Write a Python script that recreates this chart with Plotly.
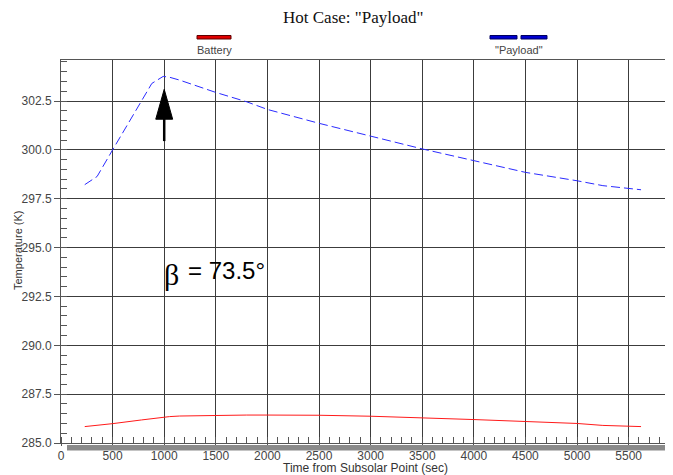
import plotly.graph_objects as go

# ---- data ----
time_s = [230, 350, 500, 780, 880, 990, 1050, 1150, 1500, 1800, 2000, 2500,
          3000, 3500, 4000, 4500, 5000, 5250, 5620]
payload_K = [298.22, 298.64, 300.0, 302.55, 303.4, 303.76, 303.72, 303.57,
             302.94, 302.46, 302.07, 301.36, 300.7, 300.05, 299.45, 298.85,
             298.42, 298.17, 297.96]
battery_K = [285.84, 285.9, 285.99, 286.18, 286.25, 286.33, 286.35, 286.38,
             286.42, 286.43, 286.43, 286.42, 286.37, 286.3, 286.2, 286.1,
             286.0, 285.9, 285.84]
series_names = ["Battery", '"Payload"']
title_text = 'Hot Case: "Payload"'
x_title = "Time from Subsolar Point (sec)"
y_title = "Temperature (K)"
beta_label = "= 73.5°"
peak_time = 1000

OFF = 8  # page body margin
W, H = 673 - OFF, 475 - OFF
# page-pixel frame of plot area: x 61..672, y 60..443
L, R, T, B = 61 - OFF, 1, 60 - OFF, 475 - 443
PW, PH = W - L - R, H - T - B

def px_x(p):  # page pixel -> paper x
    return (p - OFF - L) / PW

def px_y(p):  # page pixel -> paper y
    return (H - B - (p - OFF)) / PH

fig = go.Figure()
fig.add_trace(go.Scatter(x=time_s, y=battery_K, mode="lines", name=series_names[0],
                         line=dict(color="#ff1a1a", width=1), showlegend=False))
fig.add_trace(go.Scatter(x=time_s, y=payload_K, mode="lines", name=series_names[1],
                         line=dict(color="#2b2bff", width=1, dash="9px,4px"),
                         showlegend=False))

font_sans = "Liberation Sans, Arial, sans-serif"
axis_common = dict(showline=True, linecolor="#555555", linewidth=1, mirror=True,
                   showgrid=True, gridcolor="#3c3c3c", gridwidth=1, zeroline=False,
                   ticks="outside", tickcolor="#555555",
                   tickfont=dict(family=font_sans, size=12, color="#444444"))

fig.update_xaxes(range=[0, 5920], tick0=0, dtick=500, ticklen=2,
                 minor=dict(ticks="inside", ticklen=6, dtick=100, tickcolor="#555555",
                            showgrid=False),
                 **axis_common)
fig.update_yaxes(range=[285, 304.6], tick0=285, dtick=2.5, tickformat=".1f", ticklen=6,
                 minor=dict(ticks="inside", ticklen=6, dtick=0.5, tickcolor="#555555",
                            showgrid=False),
                 **axis_common)

shapes = []
# gray bar under x axis
shapes.append(dict(type="rect", xref="paper", yref="paper",
                   x0=px_x(67), x1=1.0, y0=px_y(445), y1=px_y(450.5),
                   fillcolor="#8a8a8a", line=dict(width=0), layer="above"))
# legend swatches
shapes.append(dict(type="rect", xref="paper", yref="paper",
                   x0=px_x(197), x1=px_x(231), y0=px_y(35.5), y1=px_y(39),
                   fillcolor="#e00000", line=dict(color="#600000", width=1)))
for a, b in [(490, 517), (521, 547)]:
    shapes.append(dict(type="rect", xref="paper", yref="paper",
                       x0=px_x(a), x1=px_x(b), y0=px_y(35.5), y1=px_y(39),
                       fillcolor="#0000d0", line=dict(color="#000060", width=1)))
# arrow at the peak
shapes.append(dict(type="line", xref="x", yref="y", x0=peak_time, x1=peak_time,
                   y0=300.45, y1=301.7, line=dict(color="black", width=2.5)))
shapes.append(dict(type="path", xref="x", yref="y",
                   path=f"M {peak_time} 303.1 L {peak_time-82} 301.57 L {peak_time+82} 301.57 Z",
                   fillcolor="black", line=dict(color="black", width=1)))

annotations = [
    dict(text=title_text, xref="paper", yref="paper", x=px_x(353), y=px_y(18),
         xanchor="center", yanchor="middle", showarrow=False,
         font=dict(family="Liberation Serif, Times New Roman, serif", size=17, color="#111111")),
    dict(text=series_names[0], xref="paper", yref="paper", x=px_x(214), y=px_y(50),
         xanchor="center", yanchor="middle", showarrow=False,
         font=dict(family=font_sans, size=11, color="#444444")),
    dict(text=series_names[1], xref="paper", yref="paper", x=px_x(519), y=px_y(50),
         xanchor="center", yanchor="middle", showarrow=False,
         font=dict(family=font_sans, size=11, color="#444444")),
    dict(text=x_title, xref="paper", yref="paper", x=px_x(365), y=px_y(468),
         xanchor="center", yanchor="middle", showarrow=False,
         font=dict(family=font_sans, size=12, color="#333333")),
    dict(text=y_title, xref="paper", yref="paper", x=px_x(18), y=px_y(250),
         xanchor="center", yanchor="middle", showarrow=False, textangle=-90,
         font=dict(family=font_sans, size=11, color="#333333")),
    dict(text="β", xref="x", yref="y", x=975, y=293.6, xanchor="left", yanchor="middle",
         showarrow=False, font=dict(family="Liberation Serif, serif", size=30, color="black")),
    dict(text=beta_label, xref="x", yref="y", x=1210, y=293.85, xanchor="left",
         yanchor="middle", showarrow=False,
         font=dict(family=font_sans, size=24, color="black")),
]

fig.update_layout(width=W, height=H, margin=dict(l=L, r=R, t=T, b=B),
                  paper_bgcolor="white", plot_bgcolor="white",
                  shapes=shapes, annotations=annotations, showlegend=False)

fig.write_html("out.html")
